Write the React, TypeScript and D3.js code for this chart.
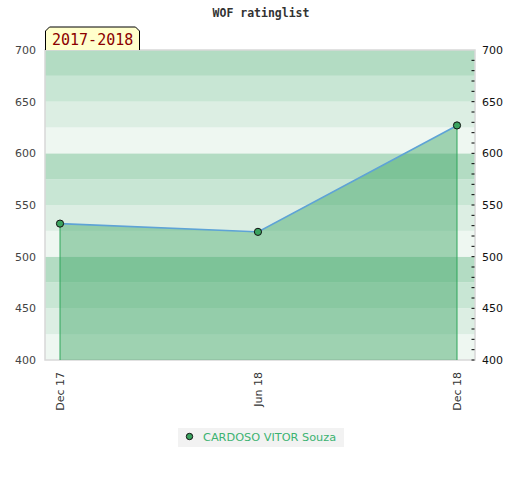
import React from "react";
import * as d3 from "d3";

const title = "WOF ratinglist";
const periodLabel = "2017-2018";
const seriesName = "CARDOSO VITOR Souza";
const dates = ["2017-12-01", "2018-06-01", "2018-12-01"];
const ratings = [532, 524, 627];
const xTickDates = ["2017-12-01", "2018-06-01", "2018-12-01"];
const xTickLabels = ["Dec 17", "Jun 18", "Dec 18"];
const yMajorTicks = [400, 450, 500, 550, 600, 650, 700];
const bandColors = ["#b3dcc3", "#c8e6d4", "#dceee3", "#eef7f1"];

const W = 520;
const H = 480;
const left = 45;
const right = 475;
const top = 50;
const bottom = 360;

export default function App() {
  const parse = d3.timeParse("%Y-%m-%d");
  const pts = dates.map((d, i) => ({ date: parse(d) as Date, v: ratings[i] }));
  const x = d3
    .scaleTime()
    .domain([parse(dates[0]) as Date, parse(dates[2]) as Date])
    .range([60, 457]);
  const y = d3.scaleLinear().domain([400, 700]).range([bottom, top]);

  const bands = d3.range(400, 700, 25).map((v) => ({
    lo: v,
    hi: v + 25,
    color: bandColors[3 - ((v - 400) / 25) % 4],
  }));
  const minorTicks = d3.range(400, 700, 10);

  const area = d3
    .area<{ date: Date; v: number }>()
    .x((d) => x(d.date))
    .y0(y(400))
    .y1((d) => y(d.v));
  const line = d3
    .line<{ date: Date; v: number }>()
    .x((d) => x(d.date))
    .y((d) => y(d.v));

  const font = "'DejaVu Sans', sans-serif";

  return (
    <svg
      width={W}
      height={H}
      style={{ position: "absolute", left: 0, top: 0 }}
      fontFamily={font}
    >
      <rect x={0} y={0} width={W} height={H} fill="#fff" />
      <text
        x={261}
        y={17}
        textAnchor="middle"
        fontFamily="'DejaVu Sans Mono', monospace"
        fontWeight="bold"
        fontSize={11.5}
        fill="#333"
      >
        {title}
      </text>

      {bands.map((b) => (
        <rect
          key={b.lo}
          x={left}
          y={y(b.hi)}
          width={right - left}
          height={y(b.lo) - y(b.hi)}
          fill={b.color}
        />
      ))}
      <rect
        x={left}
        y={top}
        width={right - left}
        height={bottom - top}
        fill="none"
        stroke="#d8d8d8"
        strokeWidth={1.5}
      />

      <path d={area(pts) || ""} fill="rgb(60,165,100)" fillOpacity={0.45} />
      <line x1={x(pts[0].date)} x2={x(pts[0].date)} y1={y(pts[0].v)} y2={bottom} stroke="#2ea55a" strokeWidth={1} />
      <line x1={x(pts[2].date)} x2={x(pts[2].date)} y1={y(pts[2].v)} y2={bottom} stroke="#2ea55a" strokeWidth={1} />
      <path d={line(pts) || ""} fill="none" stroke="#5ea3d6" strokeWidth={1.6} />
      {pts.map((p, i) => (
        <circle key={i} cx={x(p.date)} cy={y(p.v)} r={3.6} fill="#3aa35f" stroke="#111" strokeWidth={1} />
      ))}

      {minorTicks.map((t) => (
        <line key={t} x1={471.5} x2={474.5} y1={y(t)} y2={y(t)} stroke="#000" strokeWidth={1} />
      ))}

      {yMajorTicks.map((t) => (
        <g key={t}>
          <text x={36} y={y(t) + 4} textAnchor="end" fontSize={11} fill="#444">
            {t}
          </text>
          <text x={482} y={y(t) + 4} textAnchor="start" fontSize={11} fill="#111">
            {t}
          </text>
        </g>
      ))}

      {xTickDates.map((d, i) => {
        const px = x(parse(d) as Date);
        return (
          <text
            key={d}
            transform={`translate(${px + 4},${372}) rotate(-90)`}
            textAnchor="end"
            fontSize={11}
            fill="#333"
          >
            {xTickLabels[i]}
          </text>
        );
      })}

      <path
        d={`M45.5,50 L45.5,31 L49.5,27 L135.5,27 L139.5,31 L139.5,50`}
        fill="#ffffcc"
        stroke="#000"
        strokeWidth={1}
      />
      <text
        x={52}
        y={45}
        fontFamily="'DejaVu Sans Mono', monospace"
        fontSize={15}
        fill="#8b0000"
      >
        {periodLabel}
      </text>

      <rect x={178} y={428} width={166} height={19} fill="#f2f2f2" />
      <circle cx={189.5} cy={436.5} r={3.2} fill="#3aa35f" stroke="#111" strokeWidth={1} />
      <text x={203} y={440.5} fontSize={11.3} fill="#3cb371">
        {seriesName}
      </text>
    </svg>
  );
}
